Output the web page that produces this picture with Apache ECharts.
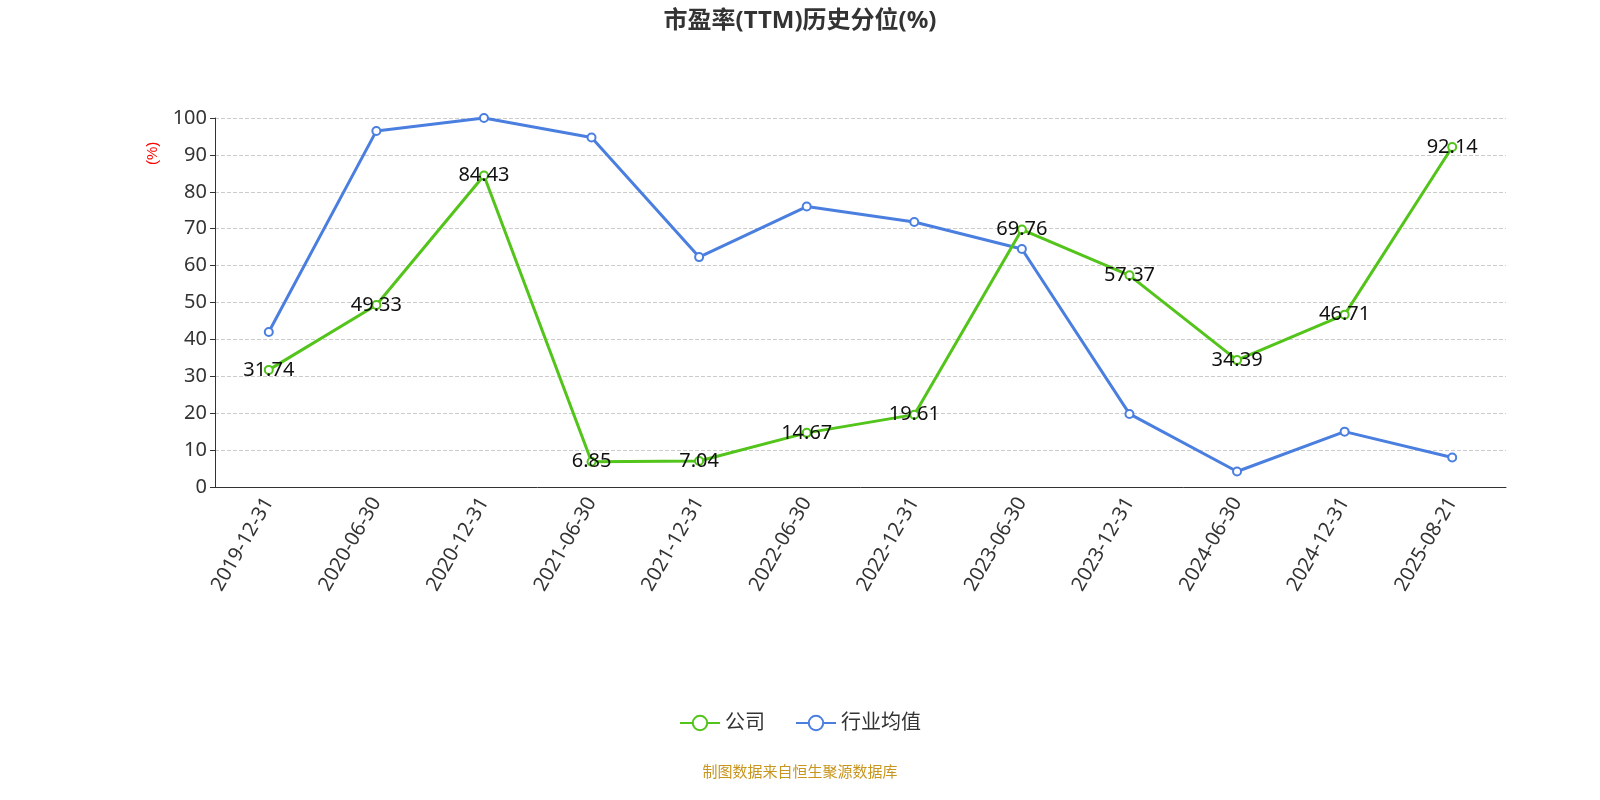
<!DOCTYPE html>
<html><head><meta charset="utf-8">
<script src="https://cdn.jsdelivr.net/npm/echarts@6/dist/echarts.min.js"></script>
<style>html,body{margin:0;padding:0}#c{width:1600px;height:800px}</style>
</head><body><div id="c"></div>
<script>
const categories = ['2019-12-31','2020-06-30','2020-12-31','2021-06-30','2021-12-31','2022-06-30','2022-12-31','2023-06-30','2023-12-31','2024-06-30','2024-12-31','2025-08-21'];
const company = [31.74,49.33,84.43,6.85,7.04,14.67,19.61,69.76,57.37,34.39,46.71,92.14];
const industry = [42,96.5,100,94.7,62.3,76,71.8,64.5,19.8,4.2,15,8];
const chart = echarts.init(document.getElementById('c'));
chart.setOption({
  animation:false,
  textStyle:{fontFamily:'"Noto Sans","Noto Sans CJK SC",sans-serif'},
  title:{text:'市盈率(TTM)历史分位(%)',left:'center',top:4,textStyle:{fontSize:24,fontWeight:'bold',color:'#333',fontFamily:'"Noto Sans","Noto Sans CJK SC",sans-serif'}},
  grid:{left:215,right:94,top:118,bottom:313},
  legend:{bottom:62,itemWidth:40,itemHeight:18,itemGap:30,textStyle:{fontSize:20,color:'#333'},data:['公司','行业均值']},
  graphic:[
    {type:'text',left:'center',top:764,style:{text:'制图数据来自恒生聚源数据库',fill:'#c8961e',fontSize:15,fontFamily:'"Noto Sans CJK SC",sans-serif'}},
    {type:'text',x:145,y:165,rotation:Math.PI/2,style:{text:'(%)',fill:'red',fontSize:15}}
  ],
  xAxis:{type:'category',boundaryGap:true,data:categories,
    axisLine:{lineStyle:{color:'#333'}},axisTick:{length:6},
    axisLabel:{rotate:60,fontSize:20,color:'#333',margin:12}},
  yAxis:{type:'value',min:0,max:100,interval:10,
    axisLine:{show:true,lineStyle:{color:'#333'}},axisTick:{show:true},
    axisLabel:{fontSize:20,color:'#333'},
    splitLine:{lineStyle:{type:'dashed',color:'#ccc'}}},
  series:[
    {name:'公司',type:'line',data:company,symbol:'emptyCircle',symbolSize:8,
     itemStyle:{color:'#52c41a',borderColor:'#52c41a'},lineStyle:{width:3,color:'#52c41a'},
     label:{show:true,position:'inside',fontSize:20,color:'#111'},z:3},
    {name:'行业均值',type:'line',data:industry,symbol:'emptyCircle',symbolSize:8,
     itemStyle:{color:'#4a7fe0'},lineStyle:{width:3,color:'#4a7fe0'},z:2}
  ]
});
</script></body></html>
